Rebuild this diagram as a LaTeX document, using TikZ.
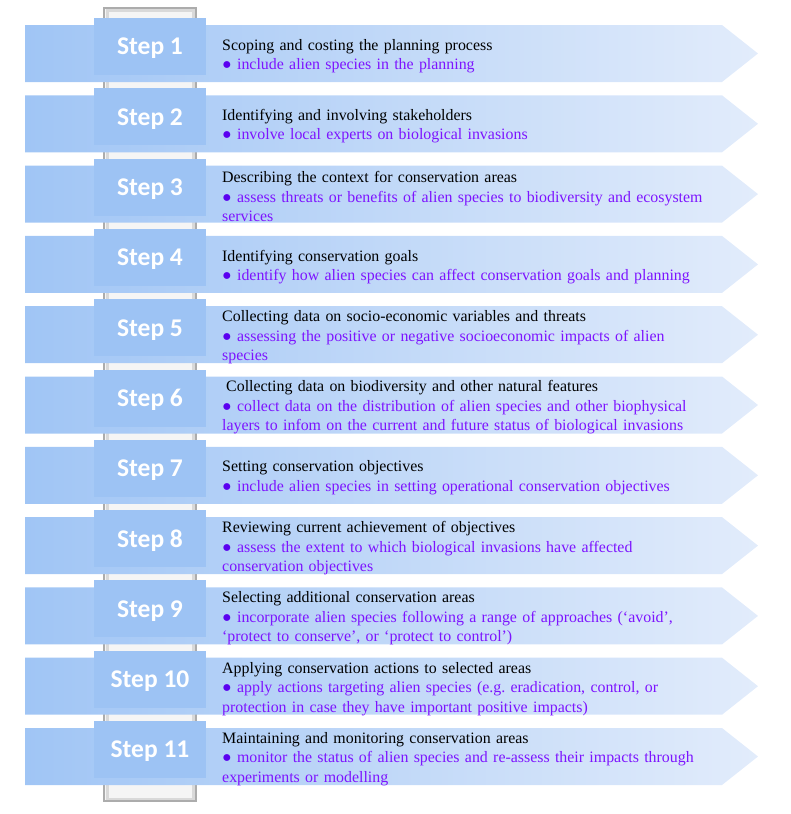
\documentclass[tikz,border=0pt]{standalone}
\usepackage{fontspec}
\setmainfont{Liberation Serif}
\newfontfamily\stepfont{Carlito}
\usetikzlibrary{positioning}
\definecolor{barleft}{RGB}{160,197,245}
\definecolor{barright}{RGB}{226,236,251}
\definecolor{tabblue}{RGB}{157,195,244}
\definecolor{subviolet}{RGB}{125,20,255}
\definecolor{dotviolet}{RGB}{90,0,240}

\begin{document}
\begin{tikzpicture}[x=1pt,y=-1pt,
    steptab/.style={fill=tabblue,minimum width=112pt,minimum height=57pt,inner sep=0pt,
      text depth=0pt,text=white,font=\stepfont\bfseries\fontsize{25.5}{27}\selectfont},
    steptext/.style={anchor=west,align=left,inner sep=0pt,text width=555pt,
      font=\fontsize{15.9}{19.5}\selectfont}]
  \useasboundingbox (0,0) rectangle (790,814);
  % the pole behind the step tabs
  \fill[gray!8] (104,8) rectangle (196,801);
  \draw[gray!30,line width=3pt] (107,10) rectangle (193,799);
  \draw[gray!65,line width=1.5pt] (104,8) rectangle (196,801);
  % one arrow bar per step, tab on the pole, title and action on the bar
  \foreach \n/\ttl/\sub in {
      1/{Scoping and costing the planning process}/{include alien species in the planning},
      2/{Identifying and involving stakeholders}/{involve local experts on biological invasions},
      3/{Describing the context for conservation areas}/{assess threats or benefits of alien species to biodiversity and ecosystem\\services},
      4/{Identifying conservation goals}/{identify how alien species can affect conservation goals and planning},
      5/{Collecting data on socio-economic variables and threats}/{assessing the positive or negative socioeconomic impacts of alien\\species},
      6/{\hspace{4pt}Collecting data on biodiversity and other natural features}/{collect data on the distribution of alien species and other biophysical\\layers to infom on the current and future status of biological invasions},
      7/{Setting conservation objectives}/{include alien species in setting operational conservation objectives},
      8/{Reviewing current achievement of objectives}/{assess the extent to which biological invasions have affected\\conservation objectives},
      9/{Selecting additional conservation areas}/{incorporate alien species following a range of approaches (`avoid',\\`protect to conserve', or `protect to control')},
      10/{Applying conservation actions to selected areas}/{apply actions targeting alien species (e.g.\ eradication, control, or\\protection in case they have important positive impacts)},
      11/{Maintaining and monitoring conservation areas}/{monitor the status of alien species and re-assess their impacts through\\experiments or modelling}}{
    \pgfmathsetmacro\top{25+(\n-1)*70.3}
    \shade[left color=barleft,right color=barright]
      (25,\top) -- (722,\top) -- (758,\top+28.5) -- (722,\top+57) -- (25,\top+57) -- cycle;
    \node[steptab] (step\n) at (150,\top+21.5) {Step \n};
    \node[steptext] (txt\n) at (222,\top+31)
      {\ttl\\{\color{subviolet}\textcolor{dotviolet}{●} \sub}};
  }
\end{tikzpicture}
\end{document}
